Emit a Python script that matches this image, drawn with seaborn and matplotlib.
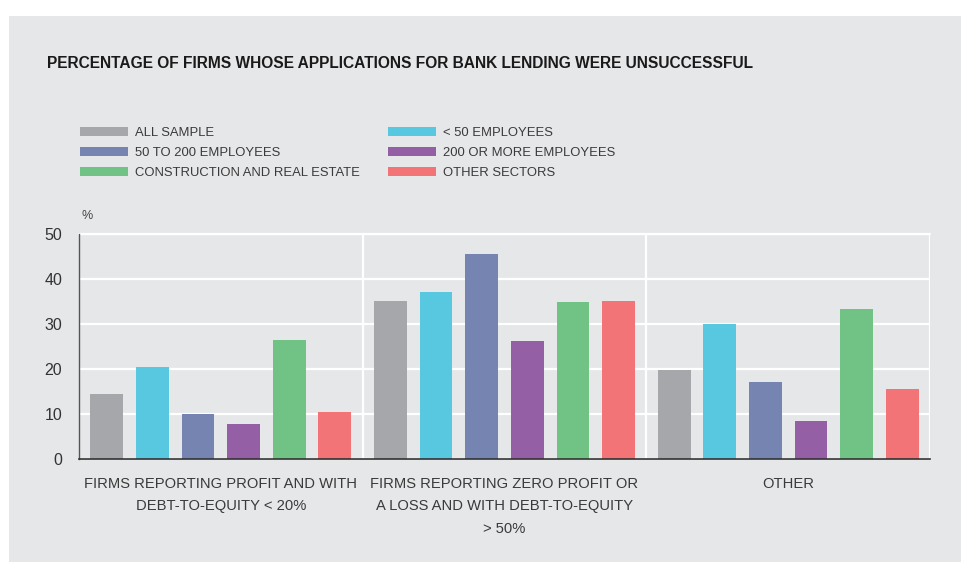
import pandas as pd
import seaborn as sns
import matplotlib.pyplot as plt
from matplotlib.patches import Rectangle, Patch

groups = [
    "FIRMS REPORTING PROFIT AND WITH\nDEBT-TO-EQUITY < 20%",
    "FIRMS REPORTING ZERO PROFIT OR\nA LOSS AND WITH DEBT-TO-EQUITY\n> 50%",
    "OTHER",
]
series = [
    "ALL SAMPLE",
    "< 50 EMPLOYEES",
    "50 TO 200 EMPLOYEES",
    "200 OR MORE EMPLOYEES",
    "CONSTRUCTION AND REAL ESTATE",
    "OTHER SECTORS",
]
all_sample = [14.5, 35.1, 19.8]
under_50 = [20.5, 37.1, 30.0]
emp_50_200 = [10.0, 45.5, 17.1]
emp_200_plus = [7.8, 26.2, 8.5]
construction = [26.5, 34.9, 33.3]
other_sectors = [10.5, 35.1, 15.6]

colors = ["#a6a7aa", "#58c7e0", "#7684b2", "#955fa5", "#71c385", "#f27476"]

values = [all_sample, under_50, emp_50_200, emp_200_plus, construction, other_sectors]
rows = []
for name, vals in zip(series, values):
    for g, v in zip(groups, vals):
        rows.append({"group": g, "series": name, "value": v})
df = pd.DataFrame(rows)

sns.set_theme(style="white")
plt.rcParams["font.family"] = ["Liberation Sans", "DejaVu Sans"]

fig = plt.figure(figsize=(9.62, 5.62), dpi=100)
fig.patch.set_facecolor("white")
bg = "#e6e7e9"
fig.patches.append(Rectangle((9 / 962, 0), 1 - 9 / 962, 1 - 16 / 562,
                             transform=fig.transFigure, facecolor=bg,
                             edgecolor="none", zorder=-10))

ax = fig.add_axes([79 / 962, 1 - 459 / 562, (930 - 79) / 962, (459 - 234) / 562])
ax.set_facecolor(bg)

sns.barplot(data=df, x="group", y="value", hue="series", order=groups,
            hue_order=series, palette=colors, width=0.965, gap=0.28,
            saturation=1, linewidth=0, edgecolor="none", legend=False,
            ax=ax, zorder=3)

ax.set_xlim(-0.5, 2.5)
ax.set_ylim(0, 50)
ax.set_yticks([0, 10, 20, 30, 40, 50])
ax.set_xlabel("")
ax.set_ylabel("")
ax.grid(axis="y", color="white", linewidth=1.6, zorder=0)
for xv in [0.5, 1.5, 2.5]:
    ax.axvline(xv, color="white", linewidth=1.6, zorder=0)
ax.axhline(50, color="white", linewidth=1.6, zorder=0, clip_on=False)

for s in ["top", "right"]:
    ax.spines[s].set_visible(False)
ax.spines["left"].set_color("#555555")
ax.spines["left"].set_linewidth(1.0)
ax.spines["bottom"].set_color("#333333")
ax.spines["bottom"].set_linewidth(1.2)
for s in ax.spines.values():
    s.set_zorder(5)

ax.tick_params(axis="y", length=0, labelsize=11.5, labelcolor="#333333", pad=12)
ax.tick_params(axis="x", length=0, labelsize=10.6, labelcolor="#3a3a3a", pad=13)
for lbl in ax.get_xticklabels():
    lbl.set_linespacing(1.75)
    lbl.set_verticalalignment("top")

fig.text(82 / 962, 1 - 216 / 562, "%", fontsize=9, color="#444444",
         va="center", ha="left")

fig.text(47 / 962, 1 - 64 / 562,
         "PERCENTAGE OF FIRMS WHOSE APPLICATIONS FOR BANK LENDING WERE UNSUCCESSFUL",
         fontsize=11.2, fontweight="bold", color="#1a1a1a", va="center", ha="left")

handles = [Patch(facecolor=c, edgecolor="none") for c in colors]
order = [0, 2, 4, 1, 3, 5]
leg = fig.legend([handles[i] for i in order], [series[i] for i in order],
                 ncol=2, loc="upper left", bbox_to_anchor=(76 / 962, 1 - 123 / 562),
                 frameon=False, fontsize=9.4, handlelength=3.7, handleheight=0.75,
                 handletextpad=0.55, columnspacing=2.1, labelspacing=0.58,
                 borderaxespad=0, borderpad=0.3)
for t in leg.get_texts():
    t.set_color("#3a3a3a")

fig.savefig("out.png", dpi=100, facecolor=fig.get_facecolor())
